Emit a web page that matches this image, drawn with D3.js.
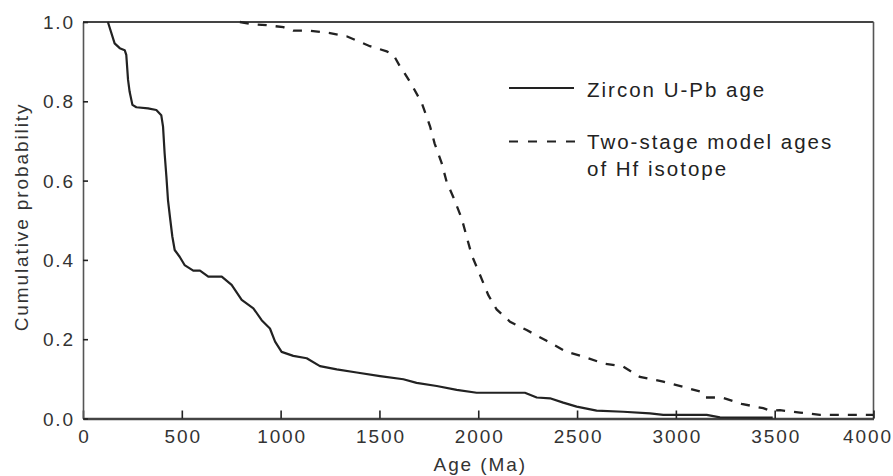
<!DOCTYPE html>
<html>
<head>
<meta charset="utf-8">
<script src="https://cdn.jsdelivr.net/npm/d3@7"></script>
<style>
  html, body { margin: 0; padding: 0; background: #fff; }
  svg text { font-family: "Liberation Sans", Arial, Helvetica, sans-serif; }
</style>
</head>
<body>
<svg id="chart" width="893" height="476"></svg>
<script>
// ---- Data ----
const uPbAge  = [126,160,186,211,219,228,236,250,270,329,371,396,405,413,422,430,442,452,464,489,514,558,592,634,702,752,803,862,904,946,972,1005,1064,1132,1199,1284,1385,1503,1621,1688,1790,1891,1992,2236,2296,2363,2430,2498,2599,2734,2869,2936,3156,3223,3490];
const uPbProb = [1.0,0.946,0.934,0.929,0.917,0.854,0.824,0.791,0.785,0.782,0.778,0.765,0.736,0.669,0.610,0.551,0.500,0.459,0.425,0.408,0.387,0.373,0.373,0.358,0.358,0.337,0.299,0.278,0.248,0.227,0.194,0.168,0.158,0.152,0.132,0.124,0.116,0.107,0.099,0.090,0.082,0.072,0.065,0.065,0.053,0.051,0.040,0.030,0.020,0.017,0.013,0.009,0.009,0.003,0.002];

const hfAge  = [794,845,929,1014,1064,1149,1250,1334,1385,1452,1537,1570,1604,1621,1663,1714,1747,1756,1779,1815,1840,1874,1916,1941,1967,2009,2051,2093,2161,2245,2346,2447,2532,2633,2734,2818,2936,3037,3122,3147,3232,3332,3442,3476,3527,3628,3729,3864,4000];
const hfProb = [1.0,0.995,0.992,0.987,0.978,0.978,0.972,0.964,0.953,0.939,0.926,0.918,0.888,0.876,0.842,0.796,0.750,0.737,0.694,0.644,0.597,0.558,0.505,0.459,0.412,0.362,0.311,0.275,0.244,0.223,0.196,0.168,0.156,0.139,0.131,0.105,0.093,0.080,0.068,0.053,0.053,0.037,0.026,0.020,0.021,0.015,0.009,0.009,0.009];

const xTicks = [0,500,1000,1500,2000,2500,3000,3500,4000];
const yTicks = [0,0.2,0.4,0.6,0.8,1.0];
const yTickLabels = ["0.0","0.2","0.4","0.6","0.8","1.0"];
const seriesNames = ["Zircon U-Pb age", "Two-stage model ages", "of Hf isotope"];
const xTitle = "Age (Ma)";
const yTitle = "Cumulative probability";

// ---- Layout ----
const L = 83, R = 873.5, T = 22, B = 418.5;
const x = d3.scaleLinear().domain([0,4000]).range([L,R]);
const y = d3.scaleLinear().domain([0,1]).range([B,T]);

const svg = d3.select("#chart");
const ink = "#222";
const axisCol = "#444";
const ls = "1.9px";
const fs = "19px";

// frame lines: top and right
svg.append("line").attr("x1",L).attr("x2",R).attr("y1",T).attr("y2",T)
  .attr("stroke",axisCol).attr("stroke-width",2);
svg.append("line").attr("x1",R).attr("x2",R).attr("y1",T).attr("y2",B)
  .attr("stroke","#555").attr("stroke-width",1.6);

// x axis
const gx = svg.append("g").attr("transform",`translate(0,${B})`)
  .call(d3.axisBottom(x).tickValues(xTicks).tickSizeInner(-8).tickSizeOuter(0).tickPadding(0).tickFormat(d3.format("d")));
gx.select(".domain").attr("stroke",axisCol).attr("stroke-width",2.4);
gx.selectAll(".tick line").attr("stroke","#222").attr("stroke-width",1.6);
gx.selectAll(".tick text").attr("y",24.5).attr("dy",null)
  .attr("font-size",fs).attr("fill","#333").style("letter-spacing",ls)
  .attr("dx",(d,i)=> i === xTicks.length-1 ? "-6px" : "1px");

// y axis
const gy = svg.append("g").attr("transform",`translate(${L},0)`)
  .call(d3.axisLeft(y).tickValues(yTicks).tickSizeInner(-5).tickSizeOuter(0).tickPadding(0)
    .tickFormat((d,i)=>yTickLabels[i]));
gy.select(".domain").attr("stroke","#555").attr("stroke-width",1.6);
gy.selectAll(".tick line").attr("stroke","#222").attr("stroke-width",1.6);
gy.selectAll(".tick text").attr("x",-8).attr("dy","0.35em")
  .attr("font-size",fs).attr("fill","#333").style("letter-spacing",ls);

// axis titles
svg.append("text").attr("x",(L+R)/2 + 2).attr("y",471).attr("text-anchor","middle")
  .attr("font-size",fs).attr("fill","#333").style("letter-spacing",ls).text(xTitle);
svg.append("text").attr("transform","translate(28,217) rotate(-90)").attr("text-anchor","middle")
  .attr("font-size",fs).attr("fill","#333").style("letter-spacing",ls).text(yTitle);

// curves
const line = d3.line().x(d=>x(d[0])).y(d=>y(d[1]));
const uPb = uPbAge.map((a,i)=>[a,uPbProb[i]]);
const hf = hfAge.map((a,i)=>[a,hfProb[i]]);

svg.append("path").datum(uPb).attr("d",line).attr("fill","none")
  .attr("stroke",ink).attr("stroke-width",2.2).attr("stroke-linejoin","round");
svg.append("path").datum(hf).attr("d",line).attr("fill","none")
  .attr("stroke",ink).attr("stroke-width",2.3).attr("stroke-dasharray","9,9");

// legend
const lg = svg.append("g");
lg.append("line").attr("x1",509).attr("x2",574).attr("y1",88).attr("y2",88)
  .attr("stroke",ink).attr("stroke-width",2);
lg.append("line").attr("x1",509).attr("x2",578).attr("y1",141.5).attr("y2",141.5)
  .attr("stroke",ink).attr("stroke-width",2).attr("stroke-dasharray","9,10");
const lt = [[seriesNames[0],96.5],[seriesNames[1],148.5],[seriesNames[2],175.5]];
lg.selectAll("text.lg").data(lt).join("text").attr("class","lg")
  .attr("x",587).attr("y",d=>d[1]).attr("font-size","20.5px").attr("fill","#222")
  .style("letter-spacing","2px").text(d=>d[0]);
</script>
</body>
</html>
